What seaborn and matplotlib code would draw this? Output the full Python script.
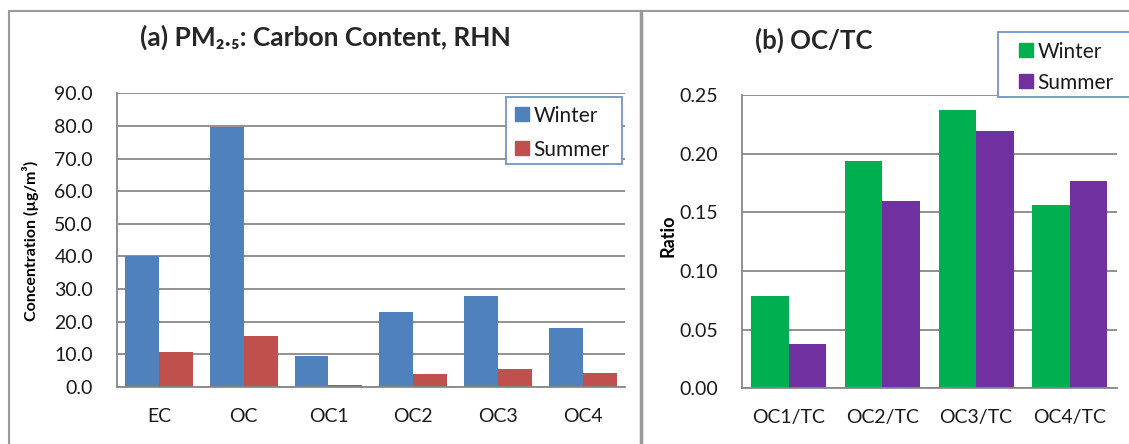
# Carbon content bar charts (winter vs summer) - two panels

import numpy as np
import pandas as pd
import seaborn as sns
import matplotlib.pyplot as plt
from matplotlib.lines import Line2D
from matplotlib.patches import Rectangle
from matplotlib.ticker import FormatStrFormatter, FixedLocator

# %%
# Data
carbon_species = ['EC', 'OC', 'OC1', 'OC2', 'OC3', 'OC4']
carbon_winter = [40.0, 79.8, 9.5, 23.1, 27.9, 18.2]
carbon_summer = [10.7, 15.5, 0.7, 3.9, 5.5, 4.4]

ratio_names = ['OC1/TC', 'OC2/TC', 'OC3/TC', 'OC4/TC']
ratio_winter = [0.079, 0.194, 0.2375, 0.156]
ratio_summer = [0.0375, 0.160, 0.2195, 0.177]

seasons = ['Winter', 'Summer']

# %%
sns.set_style('white')
plt.rcParams['font.family'] = ['Lato', 'DejaVu Sans']

W, H = 1129, 444
fig = plt.figure(figsize=(W / 100, H / 100), dpi=100)

grid_col = '#888888'
txt_col = '#1a1a1a'


def px_axes(x0, x1, ytop, ybot):
    return fig.add_axes([x0 / W, (H - ybot) / H, (x1 - x0) / W, (ybot - ytop) / H])


def make_panel(ax, cats, winter, summer, colors, ymax, ystep, fmt,
               ylabel, ylabel_size, label_xy):
    df = pd.DataFrame({'cat': cats * 2,
                       'season': ['Winter'] * len(cats) + ['Summer'] * len(cats),
                       'value': winter + summer})
    sns.barplot(data=df, x='cat', y='value', hue='season', hue_order=seasons,
                palette=colors, saturation=1, width=0.8, errorbar=None,
                edgecolor='none', ax=ax, legend=False)
    n = len(cats)
    ax.set_xlim(-0.5, n - 0.5)
    ax.set_ylim(0, ymax)
    ax.set_yticks(np.arange(0, ymax + ystep / 2, ystep))
    ax.yaxis.set_major_formatter(FormatStrFormatter(fmt))
    ax.set_axisbelow(True)
    ax.yaxis.grid(True, color=grid_col, lw=1.3)
    for s in ['top', 'right']:
        ax.spines[s].set_visible(False)
    for s in ['left', 'bottom']:
        ax.spines[s].set_color(grid_col)
        ax.spines[s].set_linewidth(1.3)
    # tick marks at category boundaries, labels at centres
    ax.xaxis.set_major_locator(FixedLocator(np.arange(-0.5, n, 1.0)))
    ax.xaxis.set_minor_locator(FixedLocator(np.arange(n)))
    ax.set_xticklabels([''] * (n + 1))
    ax.set_xticklabels(cats, minor=True)
    ax.tick_params(axis='x', which='major', length=7, width=1.3, color=grid_col, direction='out')
    ax.tick_params(axis='x', which='minor', length=0, pad=15, labelsize=14, labelcolor=txt_col)
    ax.tick_params(axis='y', length=7, width=1.3, color=grid_col, direction='out',
                   pad=10, labelsize=14, labelcolor=txt_col)
    ax.set_xlabel('')
    ax.set_ylabel(ylabel, fontsize=ylabel_size, fontweight='bold', color='black')
    ax.yaxis.set_label_coords(*label_xy)


# %%
# (a) carbon content
ax1 = px_axes(116.7, 625, 93.3, 387)
make_panel(ax1, carbon_species, carbon_winter, carbon_summer,
           ['#4F81BD', '#C0504D'], 90, 10, '%.1f',
           'Concentration (µg/m³)', 11.5, (-0.153, 0.497))

# (b) OC/TC ratio
ax2 = px_axes(741.7, 1116.7, 95, 388.3)
make_panel(ax2, ratio_names, ratio_winter, ratio_summer,
           ['#00B050', '#7030A0'], 0.25, 0.05, '%.2f',
           'Ratio', 13, (-0.175, 0.52))


# legends: frame drawn as a box, entries placed inside it
def add_legend(colors, box, hx, ytop, spacing):
    x0, x1, y0, y1 = box
    fig.add_artist(Rectangle((x0 / W, (H - y1) / H), (x1 - x0) / W, (y1 - y0) / H,
                             transform=fig.transFigure, fill=True, facecolor='white',
                             edgecolor='#6F95CC', lw=1.3, zorder=5))
    handles = [plt.Rectangle((0, 0), 1, 1, color=c) for c in colors]
    leg = fig.legend(handles, seasons, loc='upper left',
                     bbox_to_anchor=(hx / W, (H - ytop) / H),
                     fontsize=15, frameon=False,
                     handlelength=0.65, handleheight=0.65, handletextpad=0.25,
                     labelspacing=spacing, borderpad=0, borderaxespad=0)
    leg.set_zorder(6)
    for t in leg.get_texts():
        t.set_color(txt_col)
    return leg

add_legend(['#4F81BD', '#C0504D'], (506, 622, 97, 164), 515, 105.5, 0.68)
add_legend(['#00B050', '#7030A0'], (998, 1140, 32, 97), 1019, 41.5, 0.54)

# titles
fig.text(325 / W, (H - 37) / H, '(a) PM₂.₅: Carbon Content, RHN',
         ha='center', va='center', fontsize=19, fontweight='bold')
fig.text(814 / W, (H - 40) / H, '(b) OC/TC',
         ha='center', va='center', fontsize=18.5, fontweight='bold')

# panel frames
frame_col = '#9A9A9A'
fig.add_artist(Line2D([9 / W, 1], [(H - 11) / H] * 2, color=frame_col, lw=1.5))
fig.add_artist(Line2D([9 / W] * 2, [0, (H - 11) / H], color=frame_col, lw=1.5))
fig.add_artist(Line2D([641 / W] * 2, [0, (H - 11) / H], color=frame_col, lw=2.5))

fig.savefig('out.png', dpi=100)
